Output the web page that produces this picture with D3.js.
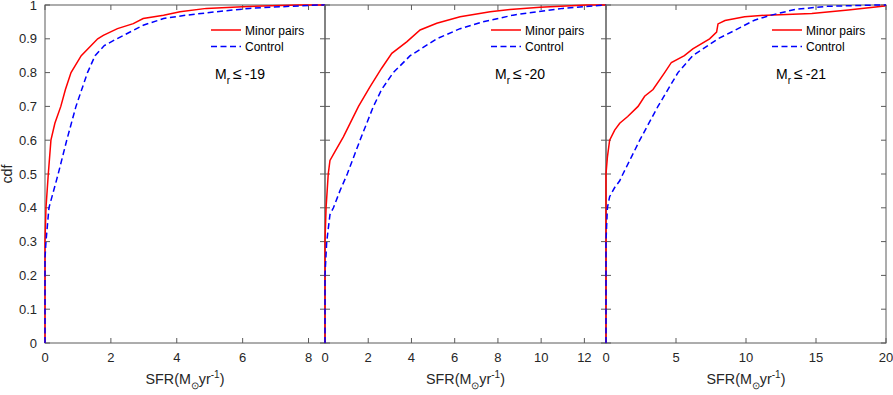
<html>
    <script src="https://d3js.org/d3.v7.min.js"></script>
    <body style="margin:0; background:white;">
        <div id="chart_area"></div>
    </body>

    <script>
        // panel settings
        let panelNames = ["-19", "-20", "-21"];
        let xMax = [8.5, 13, 20];
        let xTicks = [[0, 2, 4, 6, 8], [0, 2, 4, 6, 8, 10, 12], [0, 5, 10, 15, 20]];
        let yTicks = [0, 0.1, 0.2, 0.3, 0.4, 0.5, 0.6, 0.7, 0.8, 0.9, 1];
        let seriesNames = ["Minor pairs", "Control"];

        // cdf curves (SFR value, cdf)
        let pairs19_sfr = [0, 0, 0.03, 0.1, 0.18, 0.3, 0.48, 0.62, 0.79, 1.1, 1.6, 1.77, 2.2, 2.68, 2.98, 3.6, 4.1, 4.9, 6, 7.7, 8.5];
        let pairs19_cdf = [0, 0.3, 0.4, 0.5, 0.6, 0.65, 0.7, 0.75, 0.8, 0.85, 0.9, 0.91, 0.93, 0.945, 0.96, 0.97, 0.98, 0.99, 0.995, 1, 1];
        let control19_sfr = [0, 0, 0.03, 0.12, 0.4, 0.66, 0.94, 1.29, 1.52, 1.8, 2.18, 2.98, 3.6, 4.3, 5.2, 6.2, 7.2, 8.3, 8.5];
        let control19_cdf = [0, 0.25, 0.3, 0.4, 0.5, 0.6, 0.7, 0.8, 0.85, 0.88, 0.9, 0.94, 0.96, 0.97, 0.98, 0.99, 0.995, 1, 1];

        let pairs20_sfr = [0, 0, 0.05, 0.15, 0.23, 0.46, 0.85, 1.16, 1.55, 2.08, 2.62, 3.09, 3.78, 4.4, 5.17, 6.25, 7.64, 8.56, 9.95, 12.1, 13];
        let pairs20_cdf = [0, 0.3, 0.4, 0.5, 0.54, 0.566, 0.61, 0.65, 0.7, 0.758, 0.813, 0.857, 0.891, 0.926, 0.946, 0.965, 0.98, 0.987, 0.993, 1, 1];
        let control20_sfr = [0, 0, 0.08, 0.23, 0.39, 0.69, 1.03, 1.62, 2.24, 2.62, 3.16, 3.94, 5.17, 6.25, 7.3, 8.7, 9.8, 11, 12.9, 13];
        let control20_cdf = [0, 0.2, 0.3, 0.38, 0.4, 0.45, 0.5, 0.6, 0.7, 0.75, 0.8, 0.85, 0.9, 0.93, 0.95, 0.97, 0.98, 0.99, 1, 1];

        let pairs21_sfr = [0, 0, 0.1, 0.26, 0.62, 0.98, 1.55, 2.29, 2.76, 3.36, 4.19, 4.67, 5.6, 6.2, 7.4, 7.9, 8.0, 8.5, 9.9, 11.5, 14.7, 17.3, 19.9, 20];
        let pairs21_cdf = [0, 0.5, 0.55, 0.6, 0.63, 0.65, 0.67, 0.7, 0.73, 0.75, 0.8, 0.83, 0.85, 0.87, 0.9, 0.92, 0.944, 0.954, 0.965, 0.97, 0.975, 0.985, 0.997, 1];
        let control21_sfr = [0, 0, 0.1, 0.26, 0.62, 0.98, 1.21, 1.81, 2.41, 3.71, 5.14, 6.2, 8.0, 9.2, 10.6, 11.8, 13.5, 15.8, 19.5, 20];
        let control21_cdf = [0, 0.3, 0.4, 0.433, 0.46, 0.48, 0.5, 0.55, 0.6, 0.7, 0.8, 0.85, 0.9, 0.925, 0.955, 0.97, 0.987, 0.996, 1, 1];

        let curves = [
            [[pairs19_sfr, pairs19_cdf], [control19_sfr, control19_cdf]],
            [[pairs20_sfr, pairs20_cdf], [control20_sfr, control20_cdf]],
            [[pairs21_sfr, pairs21_cdf], [control21_sfr, control21_cdf]]
        ];

        let width = 893;
        let height = 395;
        let panelLeft = [45, 325, 606];
        let panelRight = [325, 606, 886];
        let plotTop = 5;
        let plotBottom = 343;
        let axisColor = "#5a5a5a";
        let font = "'Liberation Sans', Arial, sans-serif";
        let colors = ["#ff0000", "#0000ff"];
        let dashes = [null, "6,3.5"];

        let svg = d3.select("#chart_area").append("svg")
            .attr("width", width)
            .attr("height", height)
            .style("font-family", font);

        let y = d3.scaleLinear().domain([0, 1]).range([plotBottom, plotTop]);

        panelNames.forEach((name, p) => {
            let left = panelLeft[p];
            let right = panelRight[p];
            let x = d3.scaleLinear().domain([0, xMax[p]]).range([left, right]);
            let g = svg.append("g");

            // box
            g.append("rect")
                .attr("x", left).attr("y", plotTop)
                .attr("width", right - left).attr("height", plotBottom - plotTop)
                .attr("fill", "none")
                .attr("stroke", axisColor)
                .attr("stroke-width", 1);

            // inward ticks on all four sides
            xTicks[p].forEach(t => {
                g.append("line").attr("x1", x(t)).attr("x2", x(t)).attr("y1", plotBottom).attr("y2", plotBottom - 5)
                    .attr("stroke", axisColor);
                g.append("line").attr("x1", x(t)).attr("x2", x(t)).attr("y1", plotTop).attr("y2", plotTop + 5)
                    .attr("stroke", axisColor);
                g.append("text")
                    .attr("x", x(t)).attr("y", 362)
                    .attr("text-anchor", "middle")
                    .attr("font-size", 13)
                    .attr("fill", "#262626")
                    .text(t);
            });
            yTicks.forEach(t => {
                g.append("line").attr("x1", left).attr("x2", left + 5).attr("y1", y(t)).attr("y2", y(t))
                    .attr("stroke", axisColor);
                g.append("line").attr("x1", right).attr("x2", right - 5).attr("y1", y(t)).attr("y2", y(t))
                    .attr("stroke", axisColor);
            });

            // curves
            svg.append("clipPath").attr("id", "clip" + p)
                .append("rect")
                .attr("x", left - 1).attr("y", plotTop - 1)
                .attr("width", right - left + 2).attr("height", plotBottom - plotTop + 2);

            let line = d3.line()
                .x(d => x(d[0]))
                .y(d => y(d[1]));

            curves[p].forEach((c, s) => {
                let pts = c[0].map((v, i) => [v, c[1][i]]);
                g.append("path")
                    .datum(pts)
                    .attr("d", line)
                    .attr("clip-path", "url(#clip" + p + ")")
                    .attr("fill", "none")
                    .attr("stroke", colors[s])
                    .attr("stroke-width", 1.5)
                    .attr("stroke-dasharray", dashes[s]);
            });

            // legend
            seriesNames.forEach((n, s) => {
                let ly = 30 + s * 16.5;
                g.append("line")
                    .attr("x1", left + 166).attr("x2", left + 196)
                    .attr("y1", ly).attr("y2", ly)
                    .attr("stroke", colors[s])
                    .attr("stroke-width", 1.5)
                    .attr("stroke-dasharray", dashes[s]);
                g.append("text")
                    .attr("x", left + 200).attr("y", ly + 4.5)
                    .attr("font-size", 12)
                    .attr("fill", "#000")
                    .text(n);
            });

            // magnitude label
            let lab = g.append("text")
                .attr("x", left + 170).attr("y", 79)
                .attr("font-size", 14)
                .attr("fill", "#000");
            lab.append("tspan").text("M");
            lab.append("tspan").attr("dy", 5).attr("font-size", 10).text("r");
            lab.append("tspan").attr("dy", -5).attr("dx", 3).attr("font-size", 16).text("\u2264");
            lab.append("tspan").attr("dx", 3).text(name);

            // x label
            let xl = g.append("text")
                .attr("x", (left + right) / 2).attr("y", 384)
                .attr("text-anchor", "middle")
                .attr("font-size", 14.3)
                .attr("fill", "#262626");
            xl.append("tspan").text("SFR(M");
            xl.append("tspan").attr("dy", 5).attr("font-size", 10).text("\u2299");
            xl.append("tspan").attr("dy", -5).text("yr");
            xl.append("tspan").attr("dy", -6).attr("font-size", 10).text("-1");
            xl.append("tspan").attr("dy", 6).text(")");
        });

        // y tick labels only on the first panel
        yTicks.forEach(t => {
            svg.append("text")
                .attr("x", 37).attr("y", y(t) + 4.5)
                .attr("text-anchor", "end")
                .attr("font-size", 13)
                .attr("fill", "#262626")
                .text(t);
        });

        svg.append("text")
            .attr("transform", "translate(12,174) rotate(-90)")
            .attr("text-anchor", "middle")
            .attr("font-size", 14.3)
            .attr("fill", "#262626")
            .text("cdf");
    </script>
</html>
